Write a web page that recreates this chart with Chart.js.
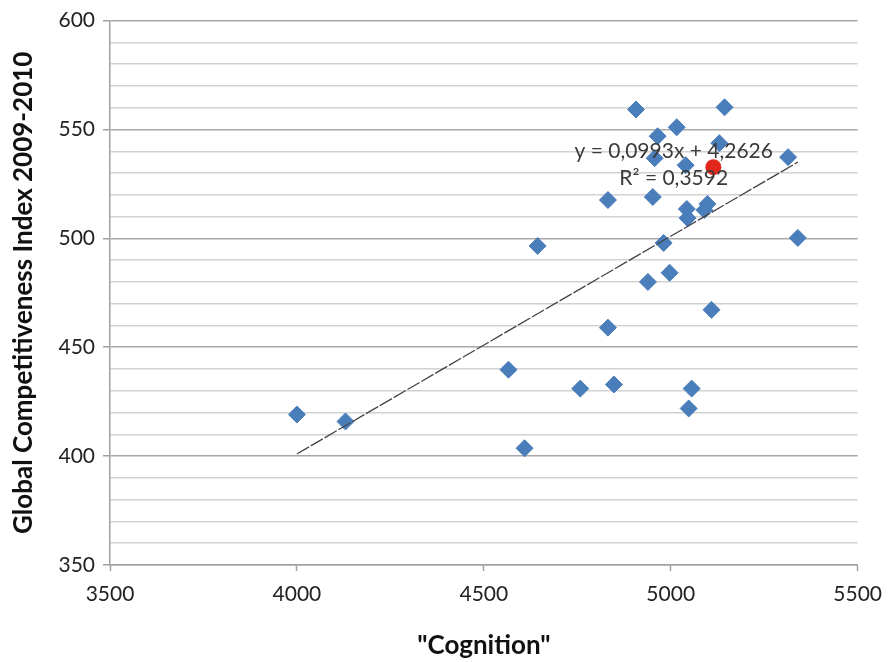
<!DOCTYPE html>
<html>
<head>
<meta charset="utf-8">
<script src="https://cdn.jsdelivr.net/npm/chart.js@4/dist/chart.umd.min.js"></script>
<style>
html,body{margin:0;padding:0;background:#ffffff;}
#wrap{width:893px;height:662px;}
</style>
</head>
<body>
<div id="wrap"><canvas id="c" width="893" height="662"></canvas></div>
<script>
// ---- data ----
const cognition = [4000, 4130, 4566, 4609, 4644, 4758, 4848, 4832, 4832, 4907,
                   4939, 4952, 4957, 4965, 4981, 4997, 5016, 5040, 5043, 5045,
                   5048, 5056, 5098, 5090, 5109, 5130, 5144, 5314, 5340];
const gci       = [419.1, 415.9, 439.7, 403.6, 496.5, 431.0, 432.9, 517.6, 459.0, 559.2,
                   480.0, 519.0, 536.8, 546.9, 497.9, 484.2, 551.0, 533.6, 513.5, 509.3,
                   421.9, 431.0, 515.8, 513.0, 467.2, 543.7, 560.2, 537.3, 500.2];
const highlightX = [5114];
const highlightY = [532.7];
const trendX = [4000, 5340];
const trendY = [401.0, 535.0];
const xTickValues = [3500, 4000, 4500, 5000, 5500];
const yMajorTicks = [350, 400, 450, 500, 550, 600];
const equationLines = ['y = 0,0993x + 4,2626', 'R\u00B2 = 0,3592'];
const equationAnchorX = 5008;
const equationAnchorY = [540.0, 527.4];
const xTitle = '"Cognition"';
const yTitle = 'Global Competitiveness Index 2009-2010';

function toPoints(xs, ys){ return xs.map((v,i)=>({x:v, y:ys[i]})); }

const equationPlugin = {
  id: 'equationText',
  afterDatasetsDraw(chart){
    const {ctx, scales} = chart;
    ctx.save();
    ctx.font = '21px Lato';
    ctx.fillStyle = '#3a3a3a';
    ctx.textAlign = 'center';
    ctx.textBaseline = 'middle';
    equationLines.forEach((t,i)=>{
      ctx.fillText(t, scales.x.getPixelForValue(equationAnchorX), scales.y.getPixelForValue(equationAnchorY[i]));
    });
    ctx.restore();
  }
};

function build(){
  Chart.defaults.font.family = 'Lato';
  Chart.defaults.color = '#222222';
  new Chart(document.getElementById('c'), {
    type: 'scatter',
    data: {
      datasets: [
        {
          label: 'highlight',
          data: toPoints(highlightX, highlightY),
          pointStyle: 'circle',
          pointRadius: 8,
          pointHoverRadius: 8,
          backgroundColor: '#e2281c',
          borderColor: '#e2281c',
          borderWidth: 0,
          order: 0
        },
        {
          label: 'trend',
          type: 'line',
          data: toPoints(trendX, trendY),
          borderColor: '#444444',
          borderWidth: 1.3,
          borderDash: [14, 2],
          pointRadius: 0,
          fill: false,
          order: 1
        },
        {
          label: 'countries',
          data: toPoints(cognition, gci),
          pointStyle: 'rectRot',
          pointRadius: 8.5,
          pointHoverRadius: 8.5,
          backgroundColor: '#4a7ebb',
          borderColor: '#4a7ebb',
          borderWidth: 1,
          order: 2
        }
      ]
    },
    options: {
      responsive: false,
      animation: false,
      devicePixelRatio: 1,
      layout: { padding: { top: 19, right: 31, left: 0, bottom: 0 } },
      plugins: { legend: { display: false }, tooltip: { enabled: false } },
      scales: {
        x: {
          type: 'linear',
          min: 3500, max: 5500,
          afterBuildTicks(scale){ scale.ticks = xTickValues.map(v=>({value:v})); },
          afterFit(scale){ scale.height = 97; },
          ticks: { font: { size: 21 }, color: '#222222', padding: 11, maxRotation: 0,
                   callback: (v)=> String(v) },
          grid: { drawOnChartArea: false, drawTicks: true, tickLength: 6, tickColor: '#a0a0a0', tickWidth: 1.5 },
          border: { display: true, color: '#a0a0a0', width: 1.5 },
          title: { display: true, text: xTitle, font: { size: 26, weight: 'bold' }, color: '#111111', padding: { top: 0, bottom: 1 } }
        },
        y: {
          type: 'linear',
          min: 350, max: 600,
          afterFit(scale){ scale.width = 110; },
          ticks: {
            stepSize: 10,
            autoSkip: false,
            font: { size: 21 },
            color: '#222222',
            padding: 8,
            callback: (v)=> yMajorTicks.includes(v) ? String(v) : ''
          },
          grid: {
            drawOnChartArea: true,
            drawTicks: true,
            tickLength: 7,
            lineWidth: 1.5,
            color: (c)=> (c.tick && c.tick.value % 50 === 0) ? '#a8a8a8' : '#d2d2d2',
            tickColor: (c)=> (c.tick && c.tick.value % 50 === 0) ? '#a0a0a0' : 'rgba(0,0,0,0)'
          },
          border: { display: true, color: '#a0a0a0', width: 1.5 },
          title: { display: true, text: yTitle, font: { size: 26, weight: 'bold' }, color: '#111111', padding: { top: 8, bottom: 0 } }
        }
      }
    },
    plugins: [equationPlugin]
  });
}

const fontLoads = [
  document.fonts.load('21px Lato'),
  document.fonts.load('bold 26px Lato')
];
Promise.all(fontLoads).then(build, build);
</script>
</body>
</html>
